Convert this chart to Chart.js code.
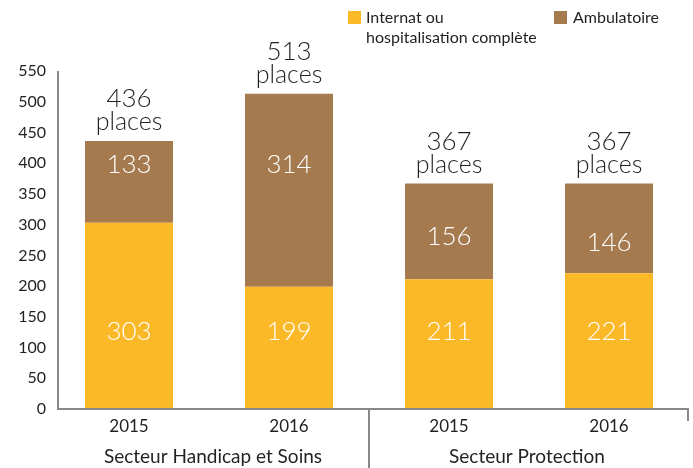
<!DOCTYPE html>
<html>
<head>
<meta charset="utf-8">
<script src="https://cdn.jsdelivr.net/npm/chart.js@4"></script>
<style>
  html, body { margin: 0; padding: 0; background: #fff; }
  #wrap { width: 693px; height: 468px; }
</style>
</head>
<body>
<div id="wrap"><canvas id="placesChart" width="693" height="468"></canvas></div>
<script>
// data
const years = ["2015", "2016", "2015", "2016"];
const sectors = ["Secteur Handicap et Soins", "Secteur Protection"];
const internat = [303, 199, 211, 221];
const ambulatoire = [133, 314, 156, 146];
const yTicks = [0, 50, 100, 150, 200, 250, 300, 350, 400, 450, 500, 550];

const FONT = "Lato, 'Open Sans', sans-serif";
const YELLOW = "#fbb827";
const BROWN = "#a67a4f";
const AXIS = "#88888c";
const INK = "#231f20";

// everything that is not a bar: axis lines, groups, legend, value labels
const decorations = {
  id: "decorations",
  afterDraw(chart, args, opts) {
    const ctx = chart.ctx;
    const area = chart.chartArea;
    const x = chart.scales.x;
    const y = chart.scales.y;
    const axisX = area.left + 9;

    ctx.save();
    ctx.strokeStyle = AXIS;
    ctx.lineWidth = 2;
    ctx.beginPath();
    ctx.moveTo(axisX, y.getPixelForValue(550));
    ctx.lineTo(axisX, area.bottom);
    ctx.lineTo(area.right, area.bottom);
    // separator between the two sectors
    const sep = (x.getPixelForValue(1) + x.getPixelForValue(2)) / 2;
    ctx.moveTo(sep, area.bottom);
    ctx.lineTo(sep, chart.height);
    ctx.moveTo(area.right - 1, area.bottom);
    ctx.lineTo(area.right - 1, area.bottom + 12);
    ctx.stroke();

    // sector names
    ctx.fillStyle = INK;
    ctx.font = "19px " + FONT;
    ctx.textAlign = "center";
    ctx.textBaseline = "middle";
    ctx.fillText(sectors[0], (area.left + sep) / 2 + 4, 457);
    ctx.fillText(sectors[1], (sep + area.right) / 2 - 2, 457);

    // legend
    ctx.textAlign = "left";
    ctx.font = "16px " + FONT;
    ctx.fillStyle = YELLOW;
    ctx.fillRect(348, 11, 13, 13);
    ctx.fillStyle = BROWN;
    ctx.fillRect(554, 11, 13, 13);
    ctx.fillStyle = INK;
    ctx.fillText("Internat ou", 366, 18);
    ctx.fillText("hospitalisation complète", 366, 38);
    ctx.fillText("Ambulatoire", 573, 18);

    // values inside bars and totals above
    ctx.textAlign = "center";
    internat.forEach((v, i) => {
      const cx = x.getPixelForValue(i);
      const total = v + ambulatoire[i];
      ctx.fillStyle = "#fff";
      ctx.font = "300 26px " + FONT;
      ctx.fillText(String(v), cx, y.getPixelForValue(opts.internatAt));
      ctx.fillText(String(ambulatoire[i]), cx, y.getPixelForValue(opts.ambulatoireAt[i]));
      const top = y.getPixelForValue(total);
      ctx.fillStyle = INK;
      ctx.fillText(String(total), cx, top - 42);
      ctx.font = "300 25px " + FONT;
      ctx.fillText("places", cx, top - 19);
    });
    ctx.restore();
  }
};

const ctx = document.getElementById("placesChart").getContext("2d");

new Chart(ctx, {
  type: "bar",
  data: {
    labels: years,
    datasets: [
      { label: "Internat ou hospitalisation complète", data: internat, backgroundColor: YELLOW },
      { label: "Ambulatoire", data: ambulatoire, backgroundColor: BROWN }
    ]
  },
  options: {
    responsive: false,
    animation: false,
    barPercentage: 0.55,
    categoryPercentage: 1,
    layout: { padding: { top: 71, right: 4, left: 0, bottom: 0 } },
    plugins: {
      legend: { display: false },
      tooltip: { enabled: false },
      decorations: { internatAt: 126, ambulatoireAt: [398, 398, 280, 270] }
    },
    scales: {
      x: {
        stacked: true,
        grid: { display: false, drawTicks: false },
        border: { display: false },
        ticks: { color: INK, font: { family: FONT, size: 17 }, padding: 7 },
        afterFit: (scale) => { scale.height = 59; }
      },
      y: {
        stacked: true,
        min: 0,
        max: 550,
        grid: { display: false, drawTicks: false },
        border: { display: false },
        afterBuildTicks: (scale) => { scale.ticks = yTicks.map(v => ({ value: v })); },
        ticks: { color: INK, font: { family: FONT, size: 16 }, padding: 3 },
        afterFit: (scale) => { scale.width = 49; }
      }
    }
  },
  plugins: [decorations]
});
</script>
</body>
</html>
